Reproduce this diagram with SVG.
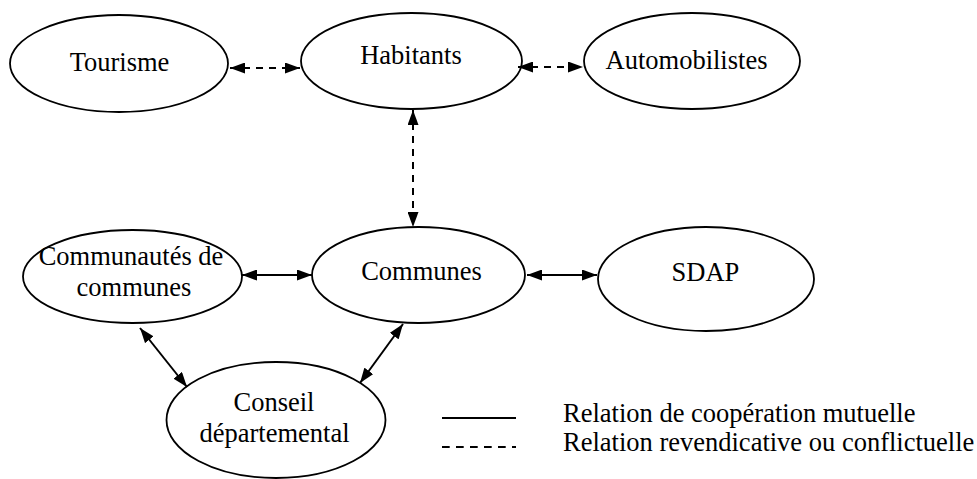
<svg xmlns="http://www.w3.org/2000/svg" width="977" height="479" viewBox="0 0 977 479">
<style>
.node ellipse{fill:#fff;stroke:#000;stroke-width:1.8}
text{font-family:"Liberation Serif","Times New Roman",serif;font-size:26.5px;fill:#000}
.node text{text-anchor:middle}
.c line{stroke:#000;stroke-width:2;marker-start:url(#ah);marker-end:url(#ah)}
.c .d{stroke-dasharray:7 6}
.leg line{stroke:#000;stroke-width:2}
</style>
<defs>
<marker id="ah" viewBox="0 0 15 11" refX="15" refY="5.5" markerWidth="15" markerHeight="11" markerUnits="userSpaceOnUse" orient="auto-start-reverse">
<path d="M0,0 L15,5.5 L0,11 z" fill="#000"/>
</marker>
</defs>
<g id="tourisme" class="node"><ellipse cx="119" cy="63.5" rx="109" ry="48.5"/><text x="119.5" y="71">Tourisme</text></g>
<g id="habitants" class="node"><ellipse cx="411.5" cy="61" rx="110.5" ry="48"/><text x="411" y="64">Habitants</text></g>
<g id="automobilistes" class="node"><ellipse cx="692" cy="61" rx="108" ry="48"/><text x="686.5" y="69">Automobilistes</text></g>
<g id="communautes" class="node"><ellipse cx="132.5" cy="276.5" rx="109.5" ry="46.5"/><text x="131" y="265">Communautés de</text><text x="134" y="296">communes</text></g>
<g id="communes" class="node"><ellipse cx="418.5" cy="275" rx="106.5" ry="48"/><text x="421.5" y="280">Communes</text></g>
<g id="sdap" class="node"><ellipse cx="706" cy="279" rx="108" ry="52"/><text x="705.5" y="281">SDAP</text></g>
<g id="conseil" class="node"><ellipse cx="276" cy="420" rx="109.5" ry="58"/><text x="274" y="411">Conseil</text><text x="274.5" y="442">départemental</text></g>
<g id="connectors" class="c">
<line class="d" x1="230" y1="68" x2="300" y2="68"/>
<line class="d" x1="518" y1="67" x2="583" y2="67"/>
<line class="d" x1="413" y1="110" x2="413" y2="227"/>
<line x1="242" y1="275" x2="312" y2="275"/>
<line x1="527" y1="275" x2="597" y2="275"/>
<line x1="140" y1="328" x2="187" y2="387"/>
<line x1="403" y1="324" x2="360" y2="383"/>
</g>
<g id="legend" class="leg">
<line x1="442" y1="418" x2="516" y2="418"/>
<line x1="442" y1="447" x2="516" y2="447" stroke-dasharray="7.7 6.3"/>
<text x="563" y="422">Relation de coopération mutuelle</text>
<text x="563" y="451">Relation revendicative ou conflictuelle</text>
</g>
</svg>
